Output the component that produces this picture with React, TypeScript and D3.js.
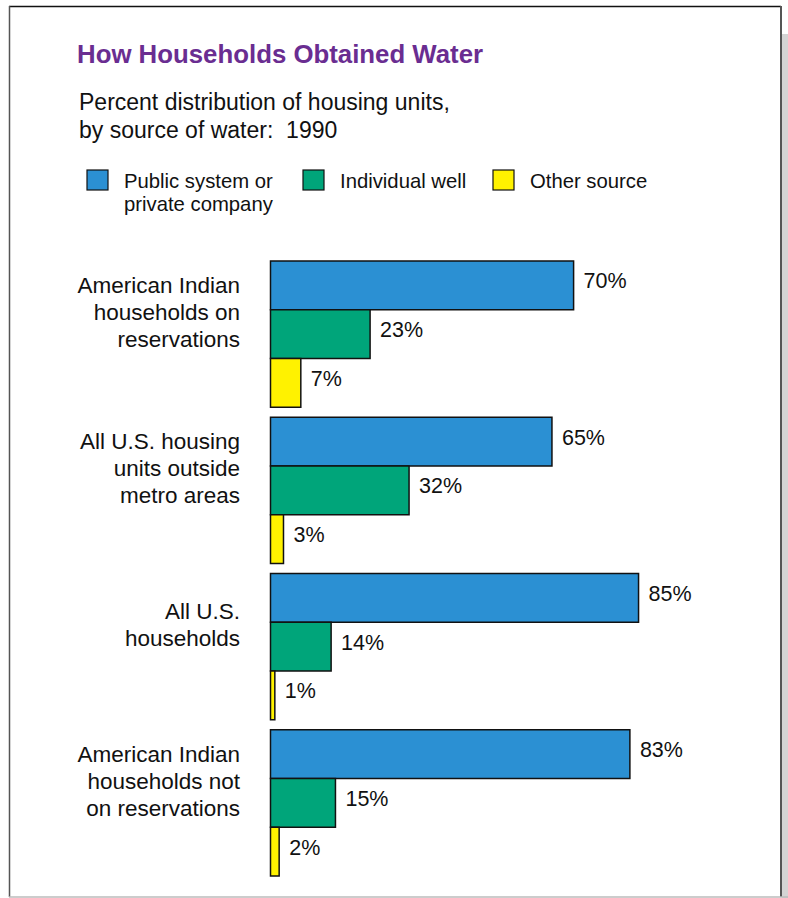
import React from "react";
import * as d3 from "d3";

const categories: string[][] = [
  ["American Indian", "households on", "reservations"],
  ["All U.S. housing", "units outside", "metro areas"],
  ["All U.S.", "households"],
  ["American Indian", "households not", "on reservations"],
];
const seriesNames = ["Public system or|private company", "Individual well", "Other source"];
const publicSystem = [70, 65, 85, 83];
const individualWell = [23, 32, 14, 15];
const otherSource = [7, 3, 1, 2];
const colors = ["#2b90d3", "#00a57a", "#fff200"];

const W = 788;
const H = 898;
const FONT = "'Liberation Sans', Arial, Helvetica, sans-serif";

export default function App() {
  const series = [publicSystem, individualWell, otherSource];
  const y = d3
    .scaleBand<number>()
    .domain(categories.map((_, i) => i))
    .range([261, 876])
    .paddingInner(0.064)
    .paddingOuter(0);
  const ySub = d3
    .scaleBand<number>()
    .domain(series.map((_, i) => i))
    .range([0, y.bandwidth()])
    .padding(0);
  const x = d3.scaleLinear().domain([0, 100]).range([270.5, 703.5]);

  const legendX = [87, 303, 493];

  return (
    <div style={{ position: "absolute", left: 0, top: 0 }}>
      <svg width={W} height={H} style={{ display: "block", fontFamily: FONT }}>
        <rect x={0} y={0} width={W} height={H} fill="#fff" />
        {/* frame */}
        <rect x={782} y={34} width={6} height={H - 34} fill="#d4d4d4" />
        <line x1={9} y1={6.5} x2={781} y2={6.5} stroke="#111" strokeWidth={1.5} />
        <line x1={9.5} y1={6} x2={9.5} y2={897} stroke="#555" strokeWidth={1.5} />
        <line x1={781} y1={6} x2={781} y2={897} stroke="#555" strokeWidth={2} />
        <line x1={9} y1={897} x2={788} y2={897} stroke="#bbb" strokeWidth={1.5} />

        {/* title */}
        <text x={77} y={63} fontSize={25.8} fontWeight="bold" fill="#6a2d91">
          How Households Obtained Water
        </text>
        <text x={79} y={110} fontSize={23} fill="#111">
          Percent distribution of housing units,
        </text>
        <text x={79} y={138} fontSize={23} fill="#111" style={{ whiteSpace: "pre" }}>
          {"by source of water:\u00a0 1990"}
        </text>

        {/* legend */}
        {seriesNames.map((name, i) => (
          <g key={name}>
            <rect
              x={legendX[i]}
              y={170}
              width={21}
              height={20}
              fill={colors[i]}
              stroke="#111"
              strokeWidth={1.2}
            />
            {name.split("|").map((ln, j) => (
              <text key={j} x={legendX[i] + 37} y={188 + j * 23} fontSize={20.3} fill="#111">
                {ln}
              </text>
            ))}
          </g>
        ))}

        {/* bars */}
        {categories.map((lines, gi) => {
          const g0 = y(gi) as number;
          const center = g0 + y.bandwidth() / 2;
          const firstBase = center - 22 - ((lines.length - 1) * 27) / 2 + 8;
          return (
            <g key={gi}>
              {lines.map((ln, li) => (
                <text
                  key={li}
                  x={240}
                  y={firstBase + li * 27}
                  fontSize={22.5}
                  textAnchor="end"
                  fill="#111"
                >
                  {ln}
                </text>
              ))}
              {series.map((s, si) => {
                const by = g0 + (ySub(si) as number);
                const bh = ySub.bandwidth();
                const v = s[gi];
                return (
                  <g key={si}>
                    <rect
                      x={x(0)}
                      y={by}
                      width={x(v) - x(0)}
                      height={bh}
                      fill={colors[si]}
                      stroke="#111"
                      strokeWidth={1.5}
                    />
                    <text x={x(v) + 10} y={by + bh / 2 + 3} fontSize={21.5} fill="#111">
                      {v}%
                    </text>
                  </g>
                );
              })}
            </g>
          );
        })}
      </svg>
    </div>
  );
}
